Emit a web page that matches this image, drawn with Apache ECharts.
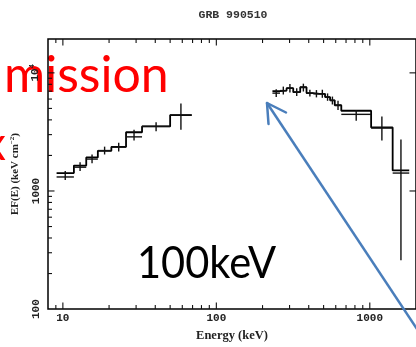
<!DOCTYPE html>
<html><head><meta charset="utf-8">
<script src="https://cdn.jsdelivr.net/npm/echarts@6/dist/echarts.min.js"></script>
<style>html,body{margin:0;padding:0;background:#fff}#c{width:416px;height:347px}</style>
</head><body><div id="c"></div>
<script>
// ---- low-energy spectrum (keV) ----
const lowEdges  = [9.1, 11.8, 14.2, 16.9, 20.7, 25.8, 32.8, 50.0, 69.1];
const lowData   = [1314, 1590, 1862, 2199, 2351, 2872, 3523, 4395];
const lowErrLo  = [1240, 1473, 1716, 2037, 2157, 2676, 3202, 3300];
const lowErrHi  = [1473, 1749, 2037, 2373, 2562, 3300, 3823, 5494];
const lowModel  = [1418, 1642, 1924, 2186, 2360, 3142, 3523, 4395];
// ---- high-energy spectrum (keV) ----
const highEdges = [232, 260, 287, 317, 352, 387, 428, 471, 511, 551, 591, 652, 1020, 1409, 1807];
const highData  = [6738, 7080, 7413, 6868, 7553, 6738, 6648, 6648, 6243, 5851, 5318, 4454, 3410, 1418];
const highErrLo = [6240, 6560, 6830, 6360, 6950, 6300, 6200, 6150, 5800, 5400, 4850, 3924, 2676, 259];
const highErrHi = [7280, 7650, 8050, 7420, 8100, 7200, 7150, 7200, 6700, 6300, 5800, 4843, 4263, 2728];
const highModel = [6998, 7080, 7413, 6868, 7553, 6738, 6648, 6648, 6243, 5851, 5318, 4779, 3455, 1493];
// ---- axes ----
const xMin = 8, xMax = 2000, yMin = 100, yMax = 19350;
const xMajor = [10, 100, 1000];
const xMinor = [9, 20, 30, 40, 50, 60, 70, 80, 90, 200, 300, 400, 500, 600, 700, 800, 900];
const yMajor = [1000, 10000];
const yMinor = [200, 300, 400, 500, 600, 700, 800, 900, 2000, 3000, 4000, 5000, 6000, 7000, 8000, 9000];
const xLabels = {10: '10', 100: '100', 1000: '1000'};
const yLabels = {100: '100', 1000: '1000', 10000: '{b|10}{s|4}'};
const title = 'GRB 990510';
const xName = 'Energy (keV)';

function stepData(edges, levels) {
  return edges.map((e, i) => [e, levels[Math.min(i, levels.length - 1)]]);
}
function crossData(edges, d, lo, hi) {
  return d.map((v, i) => [edges[i], edges[i + 1], v, lo[i], hi[i]]);
}
function renderCross(params, api) {
  const a = api.value(0), b = api.value(1), v = api.value(2), el = api.value(3), eh = api.value(4);
  const c = Math.sqrt(a * b);
  const p1 = api.coord([a, v]), p2 = api.coord([b, v]);
  const q1 = api.coord([c, el]), q2 = api.coord([c, eh]);
  const st = {stroke: '#111', lineWidth: 1.4};
  return {type: 'group', children: [
    {type: 'line', shape: {x1: p1[0], y1: p1[1], x2: p2[0], y2: p2[1]}, style: st},
    {type: 'line', shape: {x1: q1[0], y1: q1[1], x2: q2[0], y2: q2[1]}, style: st}
  ]};
}
function renderXTick(params, api) {
  const cs = params.coordSys;
  const px = api.coord([api.value(0), yMin])[0];
  const len = api.value(2) ? 6.5 : 4;
  const st = {stroke: '#111', lineWidth: 1.1};
  const bottom = cs.y + cs.height, top = cs.y;
  return {type: 'group', children: [
    {type: 'line', shape: {x1: px, y1: bottom, x2: px, y2: bottom - len}, style: st},
    {type: 'line', shape: {x1: px, y1: top, x2: px, y2: top + len}, style: st}
  ]};
}
function renderYTick(params, api) {
  const cs = params.coordSys;
  const py = api.coord([xMin, api.value(1)])[1];
  const major = api.value(2);
  const len = major ? 6.5 : 4;
  const st = {stroke: '#111', lineWidth: 1.1};
  const ch = [{type: 'line', shape: {x1: cs.x, y1: py, x2: cs.x + len, y2: py}, style: st}];
  if (major) ch.push({type: 'line', shape: {x1: cs.x + cs.width, y1: py, x2: cs.x + cs.width - len, y2: py}, style: st});
  return {type: 'group', children: ch};
}

const xTickData = xMajor.map(v => [v, yMin, 1]).concat(xMinor.map(v => [v, yMin, 0]));
const yTickData = yMajor.map(v => [xMin, v, 1]).concat(yMinor.map(v => [xMin, v, 0]));

const lblFont = {fontFamily: 'Liberation Mono', fontWeight: 'bold', fontSize: 11, color: '#222'};
function pick(map, v) {
  const r = Math.round(v);
  return (Math.abs(v - r) < 1e-6 && map[r] !== undefined) ? map[r] : '';
}

const chart = echarts.init(document.getElementById('c'), null, {renderer: 'canvas'});
chart.setOption({
  animation: false,
  backgroundColor: '#fff',
  grid: {left: 48, top: 39, right: -2.4, bottom: 31.5, show: true, borderColor: '#000', borderWidth: 1.5, backgroundColor: 'transparent'},
  xAxis: {
    type: 'log', logBase: 10, min: xMin, max: xMax,
    axisLine: {show: false}, axisTick: {show: false}, splitLine: {show: false},
    axisLabel: Object.assign({margin: 4, showMinLabel: false, showMaxLabel: false, formatter: v => pick(xLabels, v)}, lblFont),
    name: xName, nameLocation: 'middle', nameGap: 19,
    nameTextStyle: {fontFamily: 'Liberation Serif', fontWeight: 'bold', fontSize: 12.5, color: '#222'}
  },
  yAxis: {
    type: 'log', logBase: 10, min: yMin, max: yMax,
    axisLine: {show: false}, axisTick: {show: false}, splitLine: {show: false},
    axisLabel: Object.assign({margin: 6, rotate: 90, showMinLabel: true, showMaxLabel: false,
      formatter: v => pick(yLabels, v),
      rich: {b: {fontFamily: 'Liberation Mono', fontWeight: 'bold', fontSize: 11, color: '#222'},
             s: {fontFamily: 'Liberation Mono', fontWeight: 'bold', fontSize: 7, color: '#222', verticalAlign: 'top', padding: [0, 0, 6, 0]}}}, lblFont),
    name: '{n|EF(E) (keV cm}{s|−2}{n|)}', nameLocation: 'middle', nameGap: 25, nameRotate: 90,
    nameTextStyle: {rich: {
      n: {fontFamily: 'Liberation Serif', fontWeight: 'bold', fontSize: 11, color: '#222'},
      s: {fontFamily: 'Liberation Serif', fontWeight: 'bold', fontSize: 7, color: '#222', padding: [0, 0, 6, 0]}}}
  },
  series: [
    {type: 'custom', coordinateSystem: 'cartesian2d', data: xTickData, renderItem: renderXTick, silent: true, z: 3},
    {type: 'custom', coordinateSystem: 'cartesian2d', data: yTickData, renderItem: renderYTick, silent: true, z: 3},
    {type: 'line', data: stepData(lowEdges, lowModel), step: 'end', symbol: 'none', lineStyle: {color: '#000', width: 1.8}, z: 4},
    {type: 'line', data: stepData(highEdges, highModel), step: 'end', symbol: 'none', lineStyle: {color: '#000', width: 1.8}, z: 4},
    {type: 'custom', coordinateSystem: 'cartesian2d', data: crossData(lowEdges, lowData, lowErrLo, lowErrHi), renderItem: renderCross, encode: {x: [0, 1], y: [2, 3, 4]}, z: 5},
    {type: 'custom', coordinateSystem: 'cartesian2d', data: crossData(highEdges, highData, highErrLo, highErrHi), renderItem: renderCross, encode: {x: [0, 1], y: [2, 3, 4]}, z: 5}
  ],
  graphic: [
    {type: 'text', x: 233, y: 15, z: 10, style: {text: title, fontFamily: 'Liberation Mono', fontWeight: 'bold', fontSize: 11.5, fill: '#333', align: 'center', verticalAlign: 'middle'}},
    {type: 'text', x: 4, y: 101, z: -1, style: {text: 'mission', fontFamily: 'Lato', fontSize: 50, fill: '#ff0000', align: 'left', verticalAlign: 'bottom'}},
    {type: 'text', x: -17, y: 168, z: -1, style: {text: 'x', fontFamily: 'Lato', fontSize: 46, fill: '#ff0000', align: 'left', verticalAlign: 'bottom'}},
    {type: 'text', x: 137, y: 286, z: 10, scaleX: 0.945, style: {text: '100keV', fontFamily: 'Lato', fontSize: 44, fill: '#000', align: 'left', verticalAlign: 'bottom'}},
    {type: 'group', z: 20, children: [
      {type: 'line', shape: {x1: 267, y1: 103, x2: 431, y2: 350}, style: {stroke: '#4a7ebb', lineWidth: 2.5}},
      {type: 'line', shape: {x1: 267, y1: 103, x2: 268.5, y2: 124}, style: {stroke: '#4a7ebb', lineWidth: 2.5, lineCap: 'round'}},
      {type: 'line', shape: {x1: 267, y1: 103, x2: 286, y2: 112.5}, style: {stroke: '#4a7ebb', lineWidth: 2.5, lineCap: 'round'}}
    ]}
  ]
});
</script></body></html>
